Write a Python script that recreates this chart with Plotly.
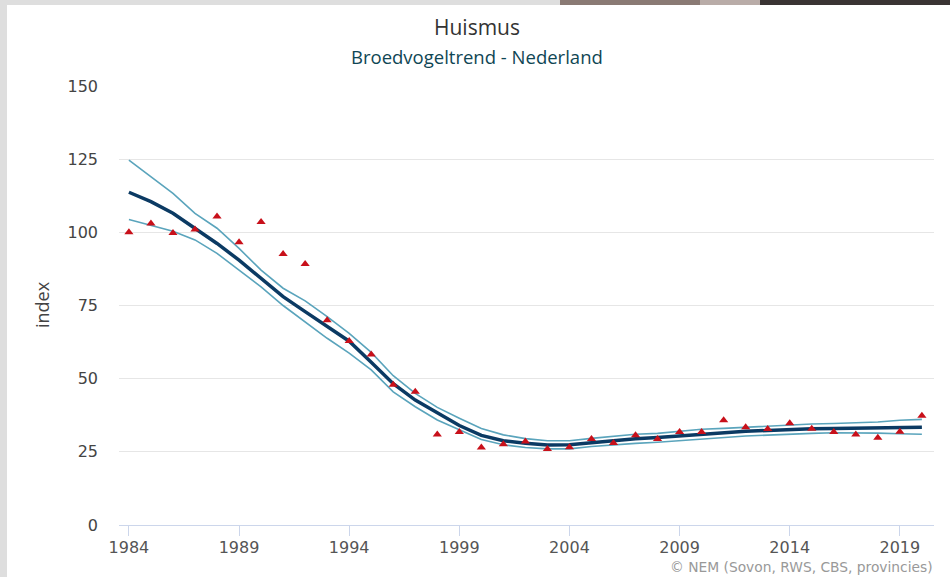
import plotly.graph_objects as go

years = list(range(1984, 2021))

index_points = [100.0, 103.0, 99.8, 101.0, 105.4, 96.6, 103.5, 92.6, 89.2, 70.0,
                62.9, 58.3, 47.9, 45.5, 30.9, 31.8, 26.5, 27.6, 28.5, 26.0,
                26.6, 29.4, 28.0, 30.7, 29.4, 31.8, 31.8, 35.8, 33.4, 32.8,
                34.8, 32.9, 31.8, 30.9, 29.8, 31.9, 37.3]

trend = [113.7, 110.5, 106.5, 101.4, 96.2, 90.5, 84.3, 78.0, 72.9, 67.8,
         62.8, 55.6, 48.3, 42.7, 38.2, 34.0, 30.6, 28.8, 27.9, 27.3,
         27.4, 28.2, 28.9, 29.5, 29.9, 30.5, 31.1, 31.5, 32.0, 32.3,
         32.7, 32.9, 33.0, 33.1, 33.2, 33.3, 33.4]

upper = [124.7, 119.0, 113.3, 106.5, 101.4, 94.5, 87.1, 80.9, 76.6, 71.2,
         65.5, 59.0, 51.0, 45.0, 40.2, 36.5, 33.0, 30.8, 29.5, 28.8,
         28.8, 29.6, 30.4, 31.0, 31.3, 32.1, 32.7, 33.0, 33.4, 33.8,
         34.2, 34.5, 34.7, 35.0, 35.2, 35.8, 36.1]

lower = [104.4, 102.5, 100.4, 97.4, 92.8, 87.1, 81.4, 75.0, 69.3, 63.8,
         58.7, 53.0, 45.5, 40.4, 35.9, 32.5, 29.2, 27.4, 26.5, 26.0,
         26.0, 26.8, 27.4, 27.9, 28.3, 28.8, 29.4, 30.0, 30.4, 30.7,
         31.1, 31.3, 31.5, 31.5, 31.4, 31.2, 31.0]

x_ticks = [1984, 1989, 1994, 1999, 2004, 2009, 2014, 2019]
y_ticks = [0, 25, 50, 75, 100, 125, 150]

title_text = "Huismus"
subtitle_text = "Broedvogeltrend - Nederland"
y_title = "index"
credits_text = "© NEM (Sovon, RWS, CBS, provincies)"

W, H = 950, 577
L, R, T, B = 119, 16, 86, 52
pw, ph = W - L - R, H - T - B


def px_x(p):
    return (p - L) / pw


def px_y(p):
    return (H - B - p) / ph


fig = go.Figure()

fig.add_trace(go.Scatter(x=years, y=upper, mode="lines",
                         line=dict(color="#5aa4bc", width=1.6),
                         hoverinfo="skip", showlegend=False))
fig.add_trace(go.Scatter(x=years, y=lower, mode="lines",
                         line=dict(color="#5aa4bc", width=1.6),
                         hoverinfo="skip", showlegend=False))
fig.add_trace(go.Scatter(x=years, y=trend, mode="lines",
                         line=dict(color="#0b3a63", width=3.5),
                         showlegend=False))
fig.add_trace(go.Scatter(x=years, y=index_points, mode="markers",
                         marker=dict(symbol="triangle-up", size=8, color="#c8101a",
                                     line=dict(width=0)),
                         showlegend=False))

shapes = [
    dict(type="rect", xref="paper", yref="paper", layer="below",
         x0=px_x(7), x1=px_x(W + 2), y0=px_y(H + 2), y1=px_y(5),
         fillcolor="white", line=dict(width=0)),
    dict(type="rect", xref="paper", yref="paper", layer="below",
         x0=px_x(560), x1=px_x(700), y0=px_y(5), y1=px_y(-1),
         fillcolor="#8a7a74", line=dict(width=0)),
    dict(type="rect", xref="paper", yref="paper", layer="below",
         x0=px_x(700), x1=px_x(760), y0=px_y(5), y1=px_y(-1),
         fillcolor="#b9aca8", line=dict(width=0)),
    dict(type="rect", xref="paper", yref="paper", layer="below",
         x0=px_x(760), x1=px_x(W + 2), y0=px_y(5), y1=px_y(-1),
         fillcolor="#3a3433", line=dict(width=0)),
]

annotations = [
    dict(text=title_text, xref="paper", yref="paper", x=px_x(477), y=px_y(27),
         showarrow=False, xanchor="center", yanchor="middle",
         font=dict(family="Open Sans, sans-serif", size=21, color="#333333")),
    dict(text=subtitle_text, xref="paper", yref="paper", x=px_x(477), y=px_y(57),
         showarrow=False, xanchor="center", yanchor="middle",
         font=dict(family="Open Sans, sans-serif", size=18.5, color="#0f4654")),
    dict(text=y_title, xref="paper", yref="paper", x=px_x(42), y=px_y(305),
         showarrow=False, xanchor="center", yanchor="middle", textangle=-90,
         font=dict(family="Open Sans, sans-serif", size=18, color="#444444")),
    dict(text=credits_text, xref="paper", yref="paper", x=px_x(935), y=px_y(567),
         showarrow=False, xanchor="right", yanchor="middle",
         font=dict(family="DejaVu Sans, sans-serif", size=13.8, color="#999999")),
]

fig.update_layout(
    width=W, height=H,
    margin=dict(l=L, r=R, t=T, b=B),
    paper_bgcolor="#dedede",
    plot_bgcolor="white",
    shapes=shapes,
    annotations=annotations,
    showlegend=False,
    font=dict(family="DejaVu Sans, sans-serif"),
)

fig.update_xaxes(
    range=[1983.55, 2020.55],
    tickmode="array", tickvals=x_ticks, ticktext=[str(v) for v in x_ticks],
    showgrid=False, zeroline=False,
    showline=True, linecolor="#ccd6eb", linewidth=1,
    ticks="outside", ticklen=10, tickcolor="#ccd6eb", tickwidth=1,
    ticklabelstandoff=-2,
    tickfont=dict(family="DejaVu Sans, sans-serif", size=16, color="#555555"),
)

fig.update_yaxes(
    range=[0, 150],
    tickmode="array", tickvals=y_ticks, ticktext=[str(v) for v in y_ticks],
    showgrid=True, gridcolor="#e6e6e6", gridwidth=1,
    zeroline=False, showline=False, ticks="",
    ticklabelstandoff=20,
    tickfont=dict(family="DejaVu Sans, sans-serif", size=16, color="#444444"),
)

fig.write_html("out.html",
               config={"displayModeBar": False},
               post_script="document.body.style.margin='0';document.body.style.padding='0';")
